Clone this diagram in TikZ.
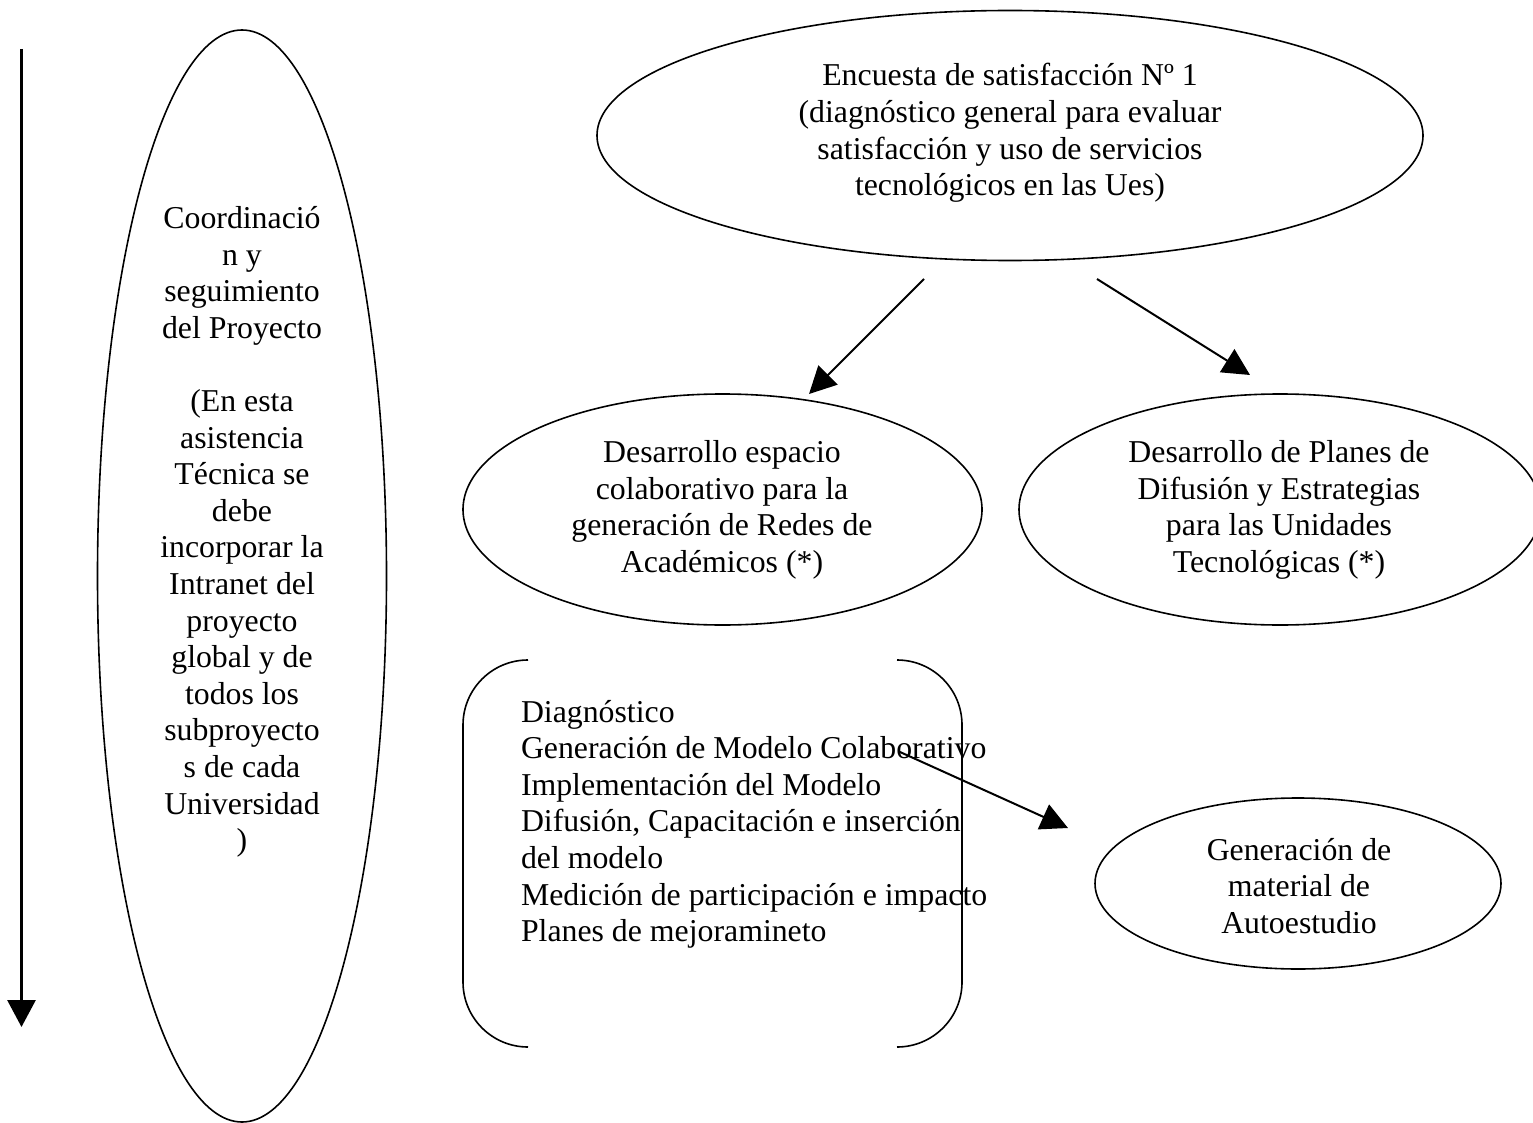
\documentclass[tikz,border=0pt]{standalone}
\usepackage{fontspec}
\setmainfont{Liberation Serif}
\usetikzlibrary{shapes.geometric,arrows.meta}
\tikzset{
  ell/.style={draw, ellipse, line width=1.6pt, inner sep=0pt, outer sep=0pt},
  txt/.style={inner sep=0pt, outer sep=0pt, align=center, font=\fontsize{31.8pt}{36.6pt}\selectfont},
  txtl/.style={inner sep=0pt, outer sep=0pt, align=left, font=\fontsize{31.8pt}{36.6pt}\selectfont},
  conn/.style={line width=2pt, -{Triangle[length=27pt,width=27pt]}},
  vconn/.style={line width=3pt, -{Triangle[length=27pt,width=28pt]}},
  brk/.style={line width=1.6pt, rounded corners=65pt}
}
\begin{document}
\begin{tikzpicture}[x=1pt,y=-1pt]
\useasboundingbox (0,0) rectangle (1533,1123);
\clip (0,0) rectangle (1533,1123);
\fill[white] (0,0) rectangle (1533,1123);

% ellipses
\node[ell, minimum width=289pt, minimum height=1092pt] (coord) at (242,576) {};
\node[ell, minimum width=826pt, minimum height=250pt] (enc) at (1010,135.5) {};
\node[ell, minimum width=519pt, minimum height=231pt] (esp) at (722.5,509.5) {};
\node[ell, minimum width=522pt, minimum height=231pt] (plan) at (1280,509.5) {};
\node[ell, minimum width=406pt, minimum height=171pt] (gen) at (1298,883.5) {};

% texts
\node[txt] (coordt) at (242,532) {Coordinació\\n y\\seguimiento\\del Proyecto\\[36.6pt](En esta\\asistencia\\Técnica se\\debe\\incorporar la\\Intranet del\\proyecto\\global y de\\todos los\\subproyecto\\s de cada\\Universidad\\)};
\node[txt] (enct) at (1010,133) {Encuesta de satisfacción Nº 1\\(diagnóstico general para evaluar\\satisfacción y uso de servicios\\tecnológicos en las Ues)};
\node[txt] (espt) at (722,510) {Desarrollo espacio\\colaborativo para la\\generación de Redes de\\Académicos (*)};
\node[txt] (plant) at (1279,510) {Desarrollo de Planes de\\Difusión y Estrategias\\para las Unidades\\Tecnológicas (*)};
\node[txt] (gent) at (1299,886) {Generación de\\material de\\Autoestudio};

% bracket box
\draw[brk] (528,660) -- (463,660) -- (463,1047) -- (528,1047);
\draw[brk] (897,660) -- (962,660) -- (962,1047) -- (897,1047);
\node[txtl, anchor=north west] (list) at (521,700) {Diagnóstico\\Generación de Modelo Colaborativo\\Implementación del Modelo\\Difusión, Capacitación e inserción\\del modelo\\Medición de participación e impacto\\Planes de mejoramineto};

% connectors
\coordinate (vs) at (21.5,49);
\coordinate (ve) at (21.5,1027);
\draw[vconn] (vs) -- (ve);
\coordinate (a1s) at (924,279);
\coordinate (a1e) at (809,394);
\draw[conn] (a1s) -- (a1e);
\coordinate (a2s) at (1097,279);
\coordinate (a2e) at (1250,375);
\draw[conn] (a2s) -- (a2e);
\coordinate (a3s) at (900,752);
\coordinate (a3e) at (1068,828);
\draw[conn] (a3s) -- (a3e);
\end{tikzpicture}
\end{document}
